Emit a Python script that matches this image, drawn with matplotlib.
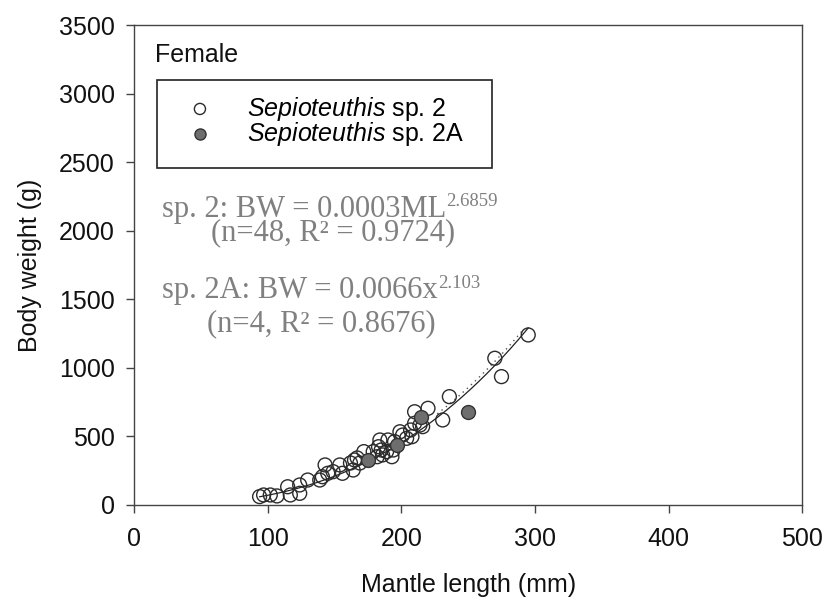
import numpy as np
import matplotlib
matplotlib.use("Agg")
import matplotlib.pyplot as plt
import matplotlib.transforms as mtransforms
from matplotlib.patches import Rectangle

plt.rcParams['font.family'] = ['Liberation Sans', 'DejaVu Sans']
plt.rcParams['mathtext.fontset'] = 'custom'
plt.rcParams['mathtext.it'] = 'Liberation Sans:italic'
plt.rcParams['mathtext.rm'] = 'Liberation Sans'

# Data: Sepioteuthis sp. 2 (open) and sp. 2A (filled)
sp2_ml = [94, 97, 102, 107, 115, 117, 124, 124, 130, 139, 141, 143, 145, 149,
          154, 156, 162, 164, 165, 167, 169, 172, 179, 182, 183, 184, 185, 186,
          189, 190, 193, 194, 195, 199, 201, 204, 207, 208, 210, 210, 214, 216,
          220, 231, 236, 270, 275, 295]
sp2_bw = [61, 73, 73, 66, 133, 73, 146, 85, 182, 182, 206, 292, 231, 243,
          292, 231, 306, 255, 328, 343, 306, 389, 389, 352, 425, 474, 401, 365,
          389, 474, 352, 401, 462, 534, 510, 486, 547, 498, 596, 680, 583, 571,
          705, 620, 790, 1070, 936, 1240]
sp2a_ml = [175, 197, 215, 250]
sp2a_bw = [328, 437, 644, 680]

# Fit coefficients printed on the chart
sp2_a, sp2_b = 0.0003, 2.6859
sp2a_a, sp2a_b = 0.0066, 2.103

fig = plt.figure(figsize=(8.27, 6.06), dpi=100)
ax = fig.add_axes([0.162, 0.1667, 0.808, 0.792])

# fitted curves
xf = np.linspace(min(sp2_ml), max(sp2_ml), 200)
ax.plot(xf, sp2_a * xf ** sp2_b, color='#222222', lw=0.9, zorder=3)
xd = np.linspace(228, 292, 60)
off = mtransforms.offset_copy(ax.transData, fig=fig, x=-1.5, y=2.5, units='dots')
ax.plot(xd, sp2_a * xd ** sp2_b, color='#555555', lw=1.0, ls=(0, (1, 3)),
        transform=off, zorder=3)

ax.scatter(sp2_ml, sp2_bw, s=100, facecolor='none', edgecolor='#2b2b2b',
           linewidth=1.0, zorder=4, label=r'$\mathit{Sepioteuthis}$ sp. 2')
ax.scatter(sp2a_ml, sp2a_bw, s=100, facecolor='#6e6e6e', edgecolor='#333333',
           linewidth=1.0, zorder=5, label=r'$\mathit{Sepioteuthis}$ sp. 2A')

ax.set_xlim(0, 500)
ax.set_ylim(0, 3500)
ax.set_xticks(range(0, 501, 100))
ax.set_yticks(range(0, 3501, 500))
ax.tick_params(direction='out', length=6, width=1.0, color='#444444',
               labelsize=18, labelcolor='#111111')
ax.tick_params(axis='x', pad=10)
ax.tick_params(axis='y', pad=8)
for sp in ax.spines.values():
    sp.set_color('#444444')
    sp.set_linewidth(1.0)

ax.set_xlabel('Mantle length (mm)', fontsize=18, color='#111111', labelpad=16)
ax.set_ylabel('Body weight (g)', fontsize=18, color='#111111', labelpad=12)

# legend
ax.text(0.031, 0.9375, 'Female', transform=ax.transAxes, fontsize=18,
        va='center', ha='left', color='#111111')
ax.add_patch(Rectangle((0.0344, 0.702), 0.502, 0.183, transform=ax.transAxes,
                       facecolor='white', edgecolor='#222222', lw=1.2, zorder=6))
leg = ax.legend(loc='center left', bbox_to_anchor=(0.080, 0.800), frameon=False,
                fontsize=18, handlelength=1.0, handletextpad=1.4,
                borderpad=0, borderaxespad=0, labelspacing=-0.12, markerscale=0.8)
leg.set_zorder(7)

# equations
grey = '#808080'
serif = ['Liberation Serif', 'DejaVu Serif']
eq_size = 22
sup_size = 13.5


def equation(x, y, main, sup):
    t = ax.text(x, y, main, transform=ax.transAxes, fontsize=eq_size,
                color=grey, family=serif, ha='left', va='baseline')
    ax.annotate(sup, xy=(1, 0), xycoords=t, xytext=(0.5, 12.5),
                textcoords='offset points', fontsize=sup_size, color=grey,
                family=serif, ha='left', va='baseline')


equation(0.0414, 0.6006, 'sp. 2: BW = 0.0003ML', '2.6859')
ax.text(0.2976, 0.552, '(n=48, R² = 0.9724)', transform=ax.transAxes,
        fontsize=eq_size, color=grey, family=serif, ha='center', va='baseline')
equation(0.0414, 0.4306, 'sp. 2A: BW = 0.0066x', '2.103')
ax.text(0.281, 0.361, '(n=4, R² = 0.8676)', transform=ax.transAxes,
        fontsize=eq_size, color=grey, family=serif, ha='center', va='baseline')

fig.savefig('out.png', dpi=100)
